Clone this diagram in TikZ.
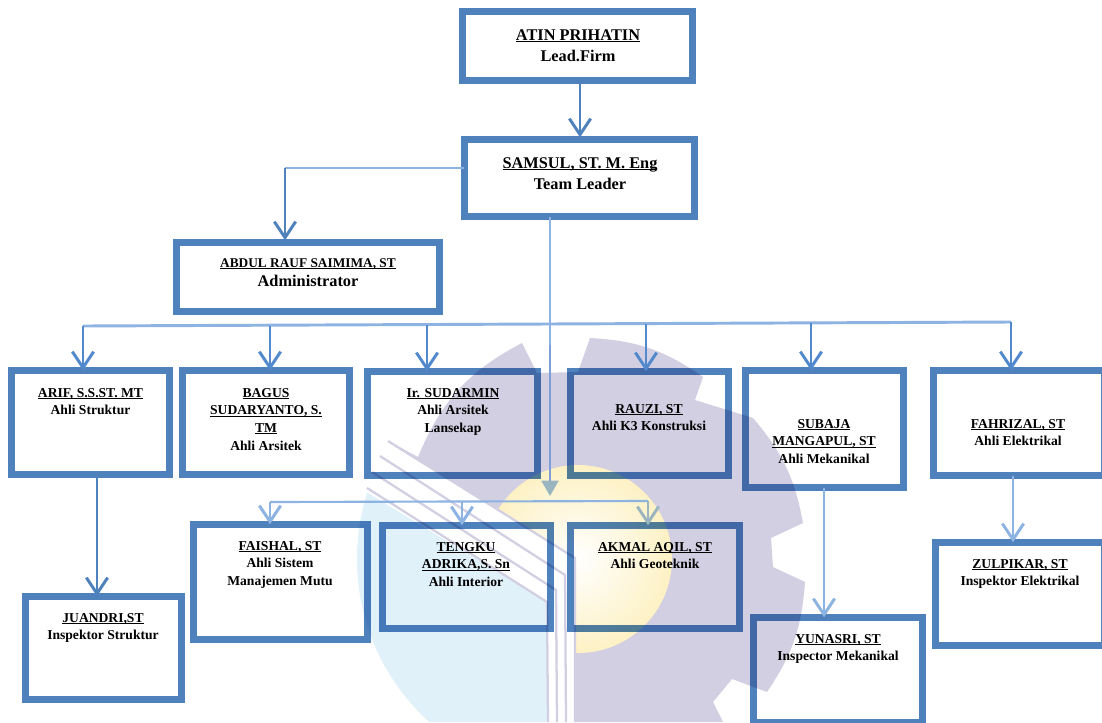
\documentclass[tikz,border=0pt]{standalone}
\usepackage{fontspec}
\setmainfont{Liberation Serif}
\usetikzlibrary{arrows.meta,calc}
\definecolor{boxblue}{HTML}{4F81BD}
\definecolor{dropblue}{HTML}{5289CC}
\definecolor{lightblue}{HTML}{8DB3E2}
\definecolor{gearpurple}{HTML}{D3CFE2}
\definecolor{wmblue}{HTML}{E0F1FA}
\definecolor{wmyellow}{HTML}{FDF1C4}
\definecolor{trunktint}{HTML}{7F9DD6}
\definecolor{tiptint}{HTML}{9AB5C0}
\tikzset{
  boxst/.style={draw=boxblue,line width=4.9pt,inner sep=0pt,outer sep=0pt,rectangle},
  lbl/.style={align=center,anchor=north,inner sep=0pt,font=\bfseries\fontsize{10.2}{13.2}\selectfont},
  lblbig/.style={align=center,anchor=north,inner sep=0pt,font=\bfseries\fontsize{12.25}{15.8}\selectfont},
  barb/.style={-{Straight Barb[length=12pt,width=16pt]}},
  darkline/.style={draw=boxblue,line width=2.2pt},
  dropline/.style={draw=dropblue,line width=2.2pt},
  lightline/.style={draw=lightblue,line width=2.2pt},
  thinline/.style={draw=lightblue,line width=1.6pt},
}
\newcommand{\bx}[5]{%
  \pgfmathsetmacro\bw{(#4-#2-6.5)*0.75}%
  \pgfmathsetmacro\bh{(#5-#3-6.5)*0.75}%
  \node[boxst,minimum width=\bw pt,minimum height=\bh pt] (#1) at ({(#2+#4)/2},{(#3+#5)/2}) {};}
\newcommand{\nm}[1]{\setbox0\hbox{#1}\rlap{\rule[-1.5pt]{\wd0}{0.85pt}}\box0 }
\begin{document}
\begin{tikzpicture}[x=0.75pt,y=-0.75pt]
\useasboundingbox (0,0) rectangle (1102,722);
\fill[white] (0,0) rectangle (1102,722);
% watermark
\fill[gearpurple] (388,441) -- (418,457)
  to[bend left=20] (522,343) -- (537,373) -- (578,372) -- (590,338)
  to[bend left=16] (703,377) -- (695,400) -- (753,418)
  to[bend left=15] (803,523) -- (771,538) -- (773,567) -- (805,582)
  to[bend left=15] (767,692) -- (732,679) -- (713,702) -- (723,722)
  -- (575,722) -- (575,558) -- cycle;
\begin{scope}
  \clip (388,441) -- (575,558) -- (575,722) -- (800,722) -- (800,300) -- (388,300) -- cycle;
  \shade[inner color=white,outer color=wmyellow] (578,559) circle (94);
\end{scope}
\begin{scope}
  \clip (340,476) -- (547,602) -- (548,722) -- (340,722) -- cycle;
  \fill[wmblue] (577,559) circle (220);
\end{scope}
\draw[gearpurple,line width=1.7pt,line join=round] (388,441) -- (575,558) -- (575,722);
\draw[gearpurple,line width=1.7pt,line join=round] (380,456) -- (565,575) -- (566,722);
\draw[gearpurple,line width=1.7pt,line join=round] (372,472) -- (556,590) -- (557,722);
\draw[gearpurple,line width=1.7pt,line join=round] (367,488) -- (547,602) -- (548,722);
\begin{scope}[blend mode=multiply]
% boxes
\bx{atin}{459}{8}{696}{84}
\bx{samsul}{461}{136}{698}{220}
\bx{abdul}{173}{239}{443}{315}
\bx{arif}{8}{367}{173}{478}
\bx{bagus}{179}{367}{353}{478}
\bx{sudarmin}{364}{368}{541}{479}
\bx{rauzi}{567}{368}{732}{479}
\bx{subaja}{742}{367}{907}{491}
\bx{fahrizal}{930}{367}{1107}{479}
\bx{zulpikar}{932}{539}{1107}{649}
\bx{faishal}{190}{521}{371}{643}
\bx{tengku}{379}{522}{554}{632}
\bx{akmal}{567}{522}{743}{632}
\bx{juandri}{22}{593}{185}{703}
\bx{yunasri}{750}{614}{926}{726}
% labels
\node[lblbig] (tatin) at (578,29) {\nm{ATIN PRIHATIN}\\Lead.Firm};
\node[lblbig] (tsamsul) at (580,157) {\nm{SAMSUL, ST. M. Eng}\\Team Leader};
\node[lbl,font=\bfseries\fontsize{10}{13.2}\selectfont] (tabdul) at (308,258) {\nm{ABDUL RAUF SAIMIMA, ST}\\[1pt]\fontsize{12.25}{14}\selectfont Administrator};
\node[lbl] (tarif) at (90.5,388) {\nm{ARIF, S.S.ST. MT}\\Ahli Struktur};
\node[lbl] (tbagus) at (266,388) {\nm{BAGUS}\\\nm{SUDARYANTO, S.}\\\nm{TM}\\Ahli Arsitek};
\node[lbl] (tsudarmin) at (453,388) {\nm{Ir. SUDARMIN}\\Ahli Arsitek\\Lansekap};
\node[lbl] (trauzi) at (649,404) {\nm{RAUZI, ST}\\Ahli K3 Konstruksi};
\node[lbl] (tsubaja) at (824,419) {\nm{SUBAJA}\\\nm{MANGAPUL, ST}\\Ahli Mekanikal};
\node[lbl] (tfahrizal) at (1018,419) {\nm{FAHRIZAL, ST}\\Ahli Elektrikal};
\node[lbl] (tzulpikar) at (1020,559) {\nm{ZULPIKAR, ST}\\Inspektor Elektrikal};
\node[lbl] (tyunasri) at (838,634) {\nm{YUNASRI, ST}\\Inspector Mekanikal};
\node[lbl] (tfaishal) at (280,541) {\nm{FAISHAL, ST}\\Ahli Sistem\\Manajemen Mutu};
\node[lbl] (ttengku) at (466,542) {\nm{TENGKU}\\\nm{ADRIKA,S. Sn}\\Ahli Interior};
\node[lbl] (takmal) at (655,542) {\nm{AKMAL AQIL, ST}\\Ahli Geoteknik};
\node[lbl] (tjuandri) at (103,613) {\nm{JUANDRI,ST}\\Inspektor Struktur};
\end{scope}
% junction coordinates
\coordinate (xa) at (580,0);
\coordinate (elbow) at (285,168);
\coordinate (trunk) at (550,0);
\coordinate (trunkb) at (550,345);
\coordinate (tribot) at (550,496);
\coordinate (busL) at (83,326);
\coordinate (busR) at (1011,322);
\coordinate (d2) at (270,326);
\coordinate (d3) at (427,325);
\coordinate (d4) at (646,324);
\coordinate (d5) at (811,323);
\coordinate (xj) at (97,0);
\coordinate (xy) at (824,0);
\coordinate (xz) at (1013,0);
\coordinate (lbL) at (270,502);
\coordinate (lbM) at (462,502);
\coordinate (lbR) at (648,501);
% connectors
\draw[darkline,barb] (atin.south -| xa) -- ($(samsul.north -| xa)+(0,-2)$);
\draw[lightline] (samsul.west |- elbow) -- (elbow);
\draw[darkline,barb] (elbow) -- ($(abdul.north -| elbow)+(0,-2)$);
\draw[lightline] (samsul.south -| trunk) -- (trunkb);
\draw[lightline,draw=trunktint,-{Triangle[length=11.5pt,width=12.5pt,color=tiptint,fill=tiptint]}] (trunkb) -- (tribot);
\draw[lightline] (busL) -- (busR);
\draw[dropline,barb] (busL) -- (arif.north -| busL);
\draw[dropline,barb] (d2) -- (bagus.north -| d2);
\draw[dropline,barb] (d3) -- (sudarmin.north -| d3);
\draw[dropline,barb] (d4) -- (rauzi.north -| d4);
\draw[dropline,barb] (d5) -- (subaja.north -| d5);
\draw[dropline,barb] (busR) -- (fahrizal.north -| busR);
\draw[darkline,barb] (arif.south -| xj) -- (juandri.north -| xj);
\draw[lightline,barb] (subaja.south -| xy) -- (yunasri.north -| xy);
\draw[lightline,barb] (fahrizal.south -| xz) -- (zulpikar.north -| xz);
\draw[thinline] (lbL) -- (lbR);
\draw[lightline,barb] (lbL) -- (faishal.north -| lbL);
\draw[lightline,barb] (lbM) -- (tengku.north -| lbM);
\draw[lightline,draw=tiptint,barb] (lbR) -- (akmal.north -| lbR);
\end{tikzpicture}
\end{document}
